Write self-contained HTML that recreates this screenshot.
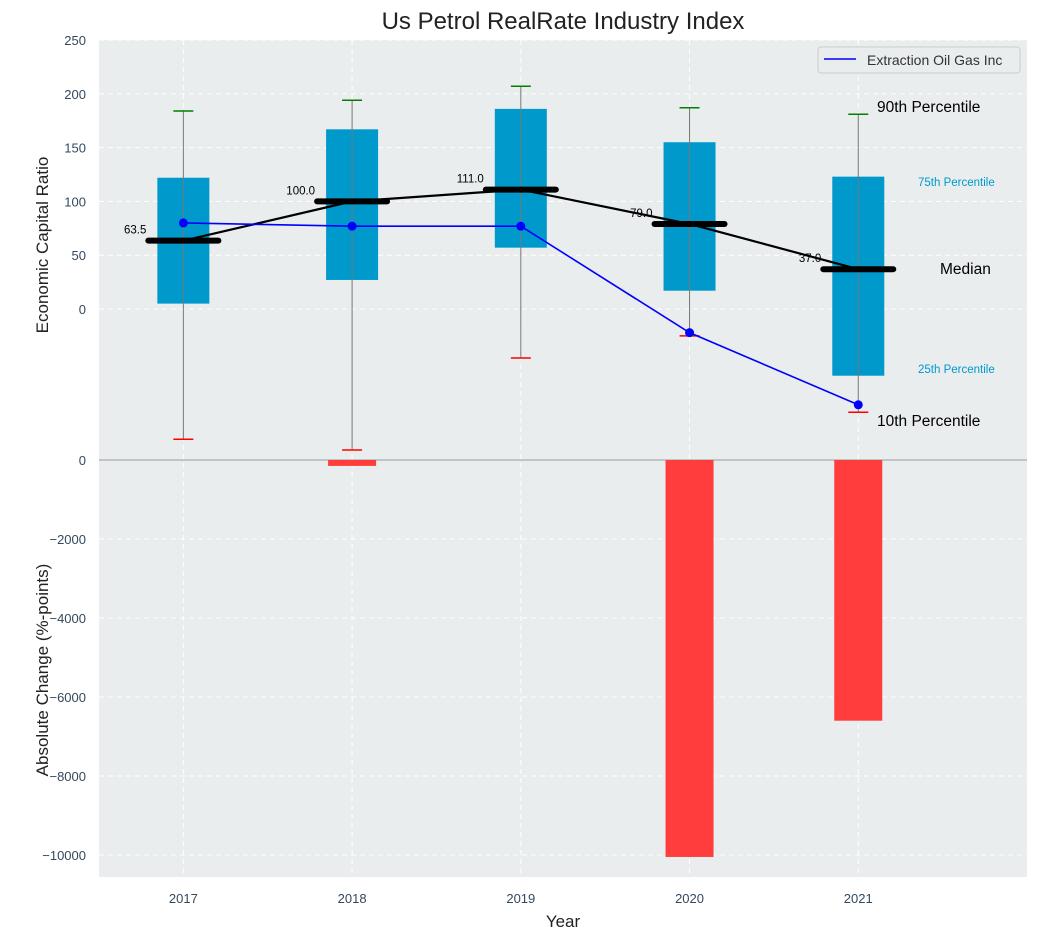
<!DOCTYPE html>
<html><head><meta charset="utf-8"><style>
body{margin:0;background:#fff;font-family:"Liberation Sans",sans-serif}
svg{display:block}
</style></head><body>
<svg id="c" width="1038" height="940" xmlns="http://www.w3.org/2000/svg"></svg>
<script>
const years=[2017,2018,2019,2020,2021];
const p90=[184,194,207,187,181];
const p75=[122,167,186,155,123];
const med=[63.5,100,111,79,37];
const p25=[5,27,57,17,-62];
const p10=[-121,-131,-45.5,-25,-96];
const company=[80,77,77,-22,-89];
const change=[0,-150,0,-10050,-6600];
const topTicks=[0,50,100,150,200,250];
const botTicks=[0,-2000,-4000,-6000,-8000,-10000];
const medLabels=["63.5","100.0","111.0","79.0","37.0"];

const svg=document.getElementById('c');
const NS='http://www.w3.org/2000/svg';
function el(t,a,txt){const e=document.createElementNS(NS,t);for(const k in a)e.setAttribute(k,a[k]);if(txt!==undefined)e.textContent=txt;svg.appendChild(e);return e;}
const L=99,R=1027;
const x=v=>L+(v-2016.5)/(2022-2016.5)*(R-L);
const yT=v=>309-v*1.076;
const yB=v=>460-v*(395/10000);
const tc='#34495e';

let e;
e=el('rect',{x:L,y:40,width:R-L,height:420,fill:'#eaedee'});

e=el('rect',{x:L,y:460,width:R-L,height:417,fill:'#eaedee'});

years.forEach(v=>{el('line',{x1:x(v),x2:x(v),y1:40,y2:877,stroke:'#fff','stroke-dasharray':'5,4','stroke-width':1});});
topTicks.forEach(v=>{el('line',{x1:L,x2:R,y1:yT(v),y2:yT(v),stroke:'#fff','stroke-dasharray':'5,4'});
 e=el('text',{x:86,y:yT(v)+5,'text-anchor':'end','font-size':13,fill:tc},v);
 });
botTicks.forEach(v=>{el('line',{x1:L,x2:R,y1:yB(v),y2:yB(v),stroke:'#fff','stroke-dasharray':'5,4'});
 e=el('text',{x:86,y:yB(v)+5,'text-anchor':'end','font-size':13,fill:tc},v<0?'\u2212'+(-v):v);
 });
el('line',{x1:L,x2:R,y1:460,y2:460,stroke:'#aaa','stroke-width':1.2});
years.forEach((v,i)=>{if(change[i]===0)return;
 e=el('rect',{x:x(v)-24,y:yB(0),width:48,height:yB(change[i])-yB(0),fill:'#ff3d3d'});
 });
years.forEach((v,i)=>{
 e=el('rect',{x:x(v)-26,y:yT(p75[i]),width:52,height:yT(p25[i])-yT(p75[i]),fill:'#0099cc'});
 
 el('line',{x1:x(v),x2:x(v),y1:yT(p90[i]),y2:yT(p10[i]),stroke:'#777','stroke-width':1});
 el('line',{x1:x(v)-10,x2:x(v)+10,y1:yT(p90[i]),y2:yT(p90[i]),stroke:'green','stroke-width':1.5});
 el('line',{x1:x(v)-10,x2:x(v)+10,y1:yT(p10[i]),y2:yT(p10[i]),stroke:'red','stroke-width':1.5});
});
el('polyline',{points:years.map((v,i)=>x(v)+','+yT(med[i])).join(' '),fill:'none',stroke:'#000','stroke-width':2.2});
years.forEach((v,i)=>{
 e=el('line',{x1:x(v)-35,x2:x(v)+35,y1:yT(med[i]),y2:yT(med[i]),stroke:'#000','stroke-width':6,'stroke-linecap':'round'});
 
 el('text',{x:x(v)-37,y:yT(med[i])-7,'text-anchor':'end','font-size':11.5,fill:'#000'},medLabels[i]);
});
el('polyline',{points:years.map((v,i)=>x(v)+','+yT(company[i])).join(' '),fill:'none',stroke:'#0000ff','stroke-width':1.6});
years.forEach((v,i)=>{e=el('circle',{cx:x(v),cy:yT(company[i]),r:4.5,fill:'#0000ff'});
 });
[[877,112,'90th Percentile',15.5,'#000'],[918,186,'75th Percentile',11.5,'#0099cc'],[940,274,'Median',15.5,'#000'],[918,373,'25th Percentile',11.5,'#0099cc'],[877,426,'10th Percentile',15.5,'#000']].forEach(a=>{
 e=el('text',{x:a[0],y:a[1],'font-size':a[3],fill:a[4]},a[2]);
 });
years.forEach(v=>{e=el('text',{x:x(v),y:903,'text-anchor':'middle','font-size':13,fill:tc},v);
 });
e=el('text',{x:563,y:29,'text-anchor':'middle','font-size':24,fill:'#222'},'Us Petrol RealRate Industry Index');

e=el('text',{x:563,y:927,'text-anchor':'middle','font-size':17,fill:'#222'},'Year');

e=el('text',{x:48,y:245,'text-anchor':'middle','font-size':17,fill:'#222',transform:'rotate(-90 48 245)'},'Economic Capital Ratio');

e=el('text',{x:48,y:670,'text-anchor':'middle','font-size':17,fill:'#222',transform:'rotate(-90 48 670)'},'Absolute Change (%-points)');

e=el('rect',{x:818,y:47,width:202,height:26,rx:3,fill:'#eaedee',stroke:'#ccc'});

el('line',{x1:824,x2:856,y1:59,y2:59,stroke:'#0000ff','stroke-width':1.6});
e=el('text',{x:867,y:65,'font-size':14,fill:'#333'},'Extraction Oil Gas Inc');

</script>
</body></html>
